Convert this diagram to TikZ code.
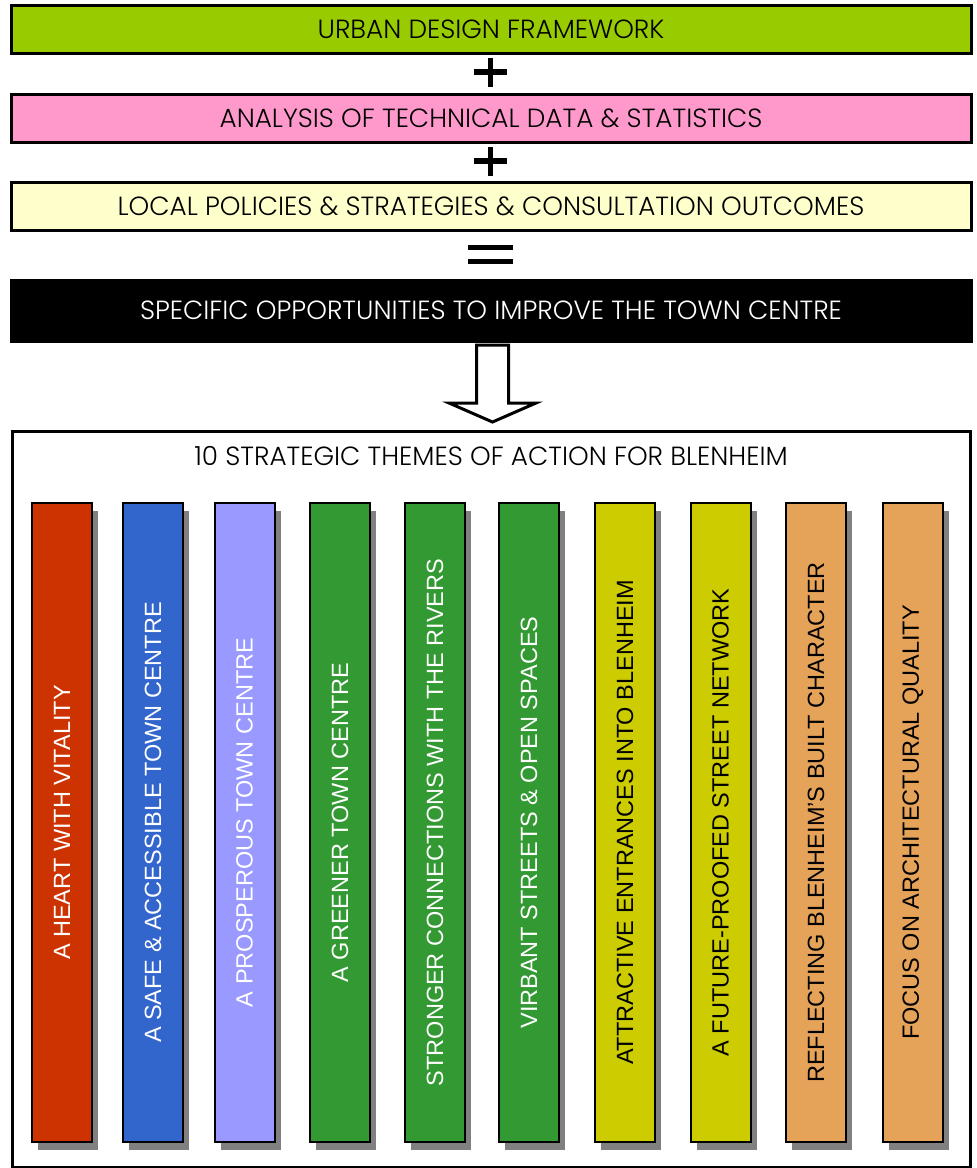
\documentclass[tikz,border=0pt]{standalone}
\usepackage{fontspec}
\setmainfont{Liberation Sans}
\newfontfamily\headfont{Poppins Light}
\usetikzlibrary{shadows}
\definecolor{cgreen}{HTML}{99CC00}
\definecolor{cpink}{HTML}{FF99CC}
\definecolor{ccream}{HTML}{FFFFCC}
\definecolor{tred}{HTML}{CC3300}
\definecolor{tblue}{HTML}{3366CC}
\definecolor{tlav}{HTML}{9999FF}
\definecolor{tgreen}{HTML}{339933}
\definecolor{tyel}{HTML}{CCCC00}
\definecolor{torange}{HTML}{E5A35A}
\definecolor{shad}{HTML}{808080}
\tikzset{
  bar/.style={draw=black, line width=3pt, minimum width=960pt, minimum height=48pt, inner sep=0pt, font=\headfont\fontsize{26.3}{26.3}\selectfont},
  theme/.style={draw=black, line width=2pt, minimum width=60pt, minimum height=639pt, inner sep=0pt,
    drop shadow={shadow xshift=6pt, shadow yshift=-8pt, fill=shad, opacity=1}},
  themetext/.style={rotate=90, font=\fontsize{23.5}{23.5}\selectfont, inner sep=0pt},
  opsign/.style={line width=5.5pt},
}
\begin{document}
\begin{tikzpicture}[x=1pt,y=-1pt]
\useasboundingbox (0,0) rectangle (977,1168);
\node[bar, fill=cgreen] (b1) at (491,29) {URBAN DESIGN FRAMEWORK};
\node[bar, fill=cpink] (b2) at (491,118) {ANALYSIS OF TECHNICAL DATA \& STATISTICS};
\node[bar, fill=ccream] (b3) at (491,206) {LOCAL POLICIES \& STRATEGIES \& CONSULTATION OUTCOMES};
\node[bar, fill=black, text=white, minimum height=61pt, draw=black] (b4) at (491,310.5) {SPECIFIC OPPORTUNITIES TO IMPROVE THE TOWN CENTRE};
% plus signs
\draw[opsign] (474,72) -- (507,72) (490.5,58) -- (490.5,87);
\draw[opsign] (474,161) -- (507,161) (490.5,147) -- (490.5,176);
% equals
\fill (468,245) rectangle (513,250);
\fill (468,259) rectangle (513,264);
% arrow
\draw[line width=3pt, fill=white, line join=miter] (476.5,345) -- (508.5,345) -- (508.5,403) -- (536,403) -- (492.5,422) -- (449,403) -- (476.5,403) -- cycle;
% main frame
\node[draw=black, line width=2.5pt, minimum width=958pt, minimum height=736pt, inner sep=0pt, anchor=north west] (frame) at (11,430) {};
\node[font=\headfont\fontsize{26.3}{26.3}\selectfont, inner sep=0pt] (title) at (491,456) {10 STRATEGIC THEMES OF ACTION FOR BLENHEIM};
% themes
\foreach \x/\c/\tc/\t [count=\i] in {
  62/tred/white/{A HEART WITH VITALITY},
  153/tblue/white/{A SAFE \& ACCESSIBLE TOWN CENTRE},
  244.5/tlav/white/{A PROSPEROUS TOWN CENTRE},
  340/tgreen/white/{A GREENER TOWN CENTRE},
  435/tgreen/white/{STRONGER CONNECTIONS WITH THE RIVERS},
  529/tgreen/white/{VIRBANT STREETS \& OPEN SPACES},
  625/tyel/black/{ATTRACTIVE ENTRANCES INTO BLENHEIM},
  720.5/tyel/black/{A FUTURE-PROOFED STREET NETWORK},
  816/torange/black/{REFLECTING BLENHEIM’S BUILT CHARACTER},
  913/torange/black/{FOCUS ON ARCHITECTURAL QUALITY}}{
  \node[theme, fill=\c] (t\i) at (\x,822.5) {};
  \node[themetext, text=\tc] (tt\i) at (t\i) {\t};
}
\end{tikzpicture}
\end{document}
